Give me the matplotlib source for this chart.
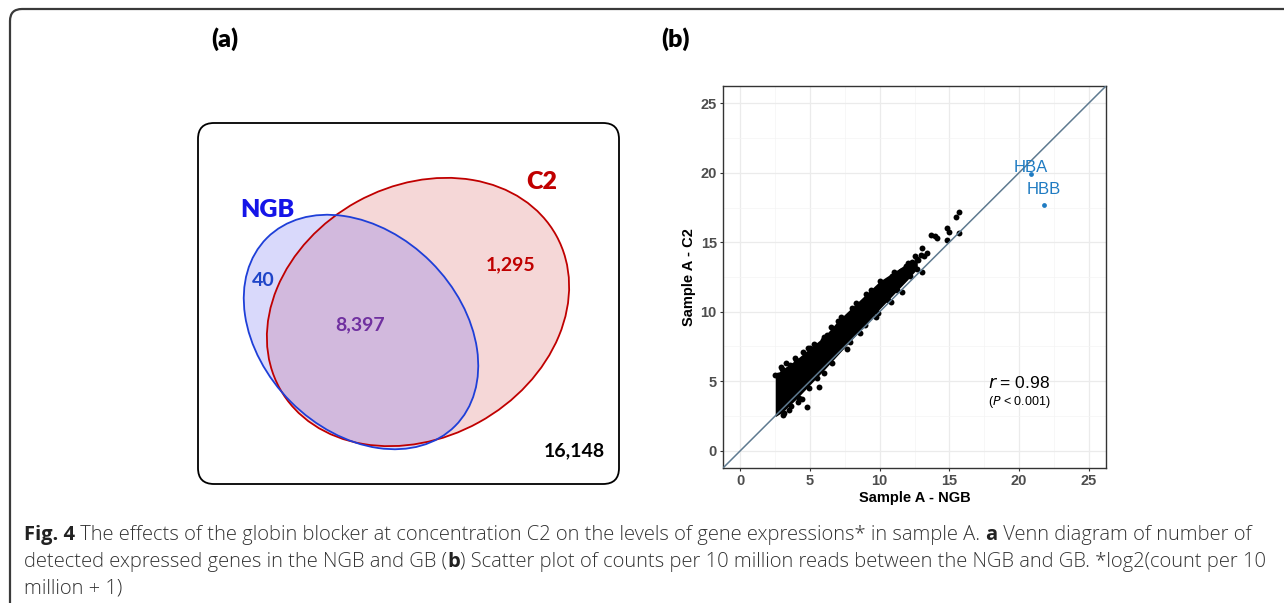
import numpy as np
import matplotlib
matplotlib.use("Agg")
import matplotlib.pyplot as plt
from matplotlib.patches import Ellipse, FancyBboxPatch, PathPatch
from matplotlib.path import Path

# ---- data -------------------------------------------------------------
venn_sets = ["NGB", "C2"]
venn_counts = {"ngb_only": "40", "both": "8,397", "c2_only": "1,295", "neither": "16,148"}

# dense cloud of genes, read as a band: x, lower edge, upper edge
band_x = [2.5, 3.0, 4.0, 5.0, 6.0, 7.0, 8.0, 9.0, 10.0, 11.0, 12.0, 12.7]
band_lo = [2.45, 2.75, 3.7, 4.75, 5.8, 6.9, 8.0, 9.1, 10.2, 11.25, 12.3, 13.1]
band_hi = [5.45, 5.85, 6.55, 7.4, 8.2, 9.35, 10.3, 11.25, 12.2, 12.85, 13.5, 13.8]

# single genes standing out of the cloud
pts_x = [15.7, 15.46, 15.7, 14.8, 14.98, 14.8, 13.96, 13.7, 14.1, 13.07, 13.07, 13.4,
         12.5, 12.75, 12.7, 12.17, 11.26, 10.57, 9.85, 8.94, 7.67, 6.0, 5.67, 4.76,
         4.16, 3.08, 3.5, 4.4, 4.87, 3.56, 2.73, 6.19, 12.3, 11.9, 11.5, 13.2, 12.0,
         11.0, 10.4, 5.3, 6.5, 7.2, 8.3, 9.4, 3.9, 4.5, 5.9, 2.9, 3.3, 10.9, 13.0,
         3.1, 3.6, 4.2, 4.9, 5.5, 6.6, 7.9, 8.6, 9.7, 10.8, 11.6]
pts_y = [17.2, 16.8, 15.67, 16.03, 15.72, 15.14, 15.43, 15.5, 15.3, 14.56, 12.83, 14.23,
         14.0, 13.7, 13.08, 12.55, 11.59, 10.86, 9.9, 9.06, 7.31, 5.58, 4.6, 3.17,
         3.53, 2.57, 2.9, 3.7, 7.38, 6.18, 5.46, 8.34, 13.6, 13.3, 12.9, 14.0, 12.9,
         12.5, 11.9, 7.7, 8.9, 9.6, 10.6, 11.6, 6.7, 7.1, 8.0, 6.0, 6.3, 12.6, 14.1,
         2.7, 3.2, 3.8, 4.5, 5.2, 6.3, 7.8, 8.5, 9.6, 10.7, 11.4]

glob_names = ["HBA", "HBB"]
glob_x = [20.84, 21.8]
glob_y = [19.95, 17.7]

r_value = 0.98

fig = plt.figure(figsize=(12.84, 6.03), dpi=100)

# overlay axes in pixel coordinates (y down) for border, venn and caption
ov = fig.add_axes([0, 0, 1, 1])
ov.set_xlim(0, 1284)
ov.set_ylim(603, 0)
ov.axis("off")

verts = [(10, 610), (10, 21), (10, 9), (22, 9), (1290, 9)]
codes = [Path.MOVETO, Path.LINETO, Path.CURVE3, Path.CURVE3, Path.LINETO]
ov.add_patch(PathPatch(Path(verts, codes), fill=False, ec="#3a3a3a", lw=1.6))

ov.text(225, 39, "(a)", fontsize=18, fontweight="heavy", family="Lato",
        ha="center", va="center")
ov.text(675, 39, "(b)", fontsize=18, fontweight="heavy", family="Lato",
        ha="center", va="center")

# venn panel
ov.add_patch(FancyBboxPatch((198, 123), 421, 361, boxstyle="round,pad=0,rounding_size=16",
                            fc="white", ec="black", lw=1.3))
c2 = Ellipse((418, 312), 316, 252, angle=-28.9, fc="#F5D7D7", ec="none")
ngb = Ellipse((361, 332), 266, 198, angle=45, fc="#D9D9FB", ec="none")
ov.add_patch(c2)
ov.add_patch(ngb)
overlap = Ellipse((361, 332), 266, 198, angle=45, fc="#D2B9DD", ec="none")
ov.add_patch(overlap)
overlap.set_clip_path(c2)
ov.add_patch(Ellipse((418, 312), 316, 252, angle=-28.9, fill=False, ec="#C00000", lw=1.3))
ov.add_patch(Ellipse((361, 332), 266, 198, angle=45, fill=False, ec="#1E3FD8", lw=1.3))

ov.text(267, 210, venn_sets[0], color="#1515E8", fontsize=18, fontweight="heavy",
        family="Lato", ha="center", va="center")
ov.text(542, 182, venn_sets[1], color="#C00000", fontsize=18, fontweight="heavy",
        family="Lato", ha="center", va="center")
ov.text(263, 280, venn_counts["ngb_only"], color="#1F45C8", fontsize=14,
        fontweight="bold", family="Lato", ha="center", va="center")
ov.text(360, 325, venn_counts["both"], color="#7030A0", fontsize=14,
        fontweight="bold", family="Lato", ha="center", va="center")
ov.text(511, 265, venn_counts["c2_only"], color="#C00000", fontsize=14,
        fontweight="bold", family="Lato", ha="center", va="center")
ov.text(574, 451, venn_counts["neither"], color="black", fontsize=14,
        fontweight="bold", family="Lato", ha="center", va="center")

# scatter panel
ax = fig.add_axes([723 / 1284, 135 / 603, 383 / 1284, 382 / 603])
ax.set_xlim(-1.25, 26.25)
ax.set_ylim(-1.25, 26.25)
ticks = np.arange(0, 26, 5)
ax.set_xticks(ticks)
ax.set_yticks(ticks)
ax.set_xticks(ticks[:-1] + 2.5, minor=True)
ax.set_yticks(ticks[:-1] + 2.5, minor=True)
ax.grid(which="major", color="#EBEBEB", lw=0.9)
ax.grid(which="minor", color="#F4F4F4", lw=0.5)
ax.set_axisbelow(True)
ax.tick_params(which="minor", length=0)
ax.tick_params(which="major", length=2.5, width=0.8, color="#333333", pad=2,
               labelsize=10.5, labelcolor="#4D4D4D")
for lab in ax.get_xticklabels() + ax.get_yticklabels():
    lab.set_fontweight("bold")
    lab.set_family("Liberation Sans")
for sp in ax.spines.values():
    sp.set_color("#333333")
    sp.set_linewidth(1.0)

ax.fill_between(band_x, band_lo, band_hi, color="black", lw=0, zorder=2)
ax.scatter(pts_x, pts_y, s=18, color="black", lw=0, zorder=3)
ax.scatter(band_x, band_hi, s=18, color="black", lw=0, zorder=3)
ax.plot([-1.25, 26.25], [-1.25, 26.25], color="#5E7A90", lw=1.1, zorder=4)

ax.scatter(glob_x, glob_y, s=12, color="#1F7BC2", lw=0, zorder=5)
ax.text(glob_x[0], glob_y[0] + 0.4, glob_names[0], color="#1F7BC2", fontsize=12,
        family="Liberation Sans", ha="center", va="center", zorder=5)
ax.text(glob_x[1], glob_y[1] + 1.1, glob_names[1], color="#1F7BC2", fontsize=12,
        family="Liberation Sans", ha="center", va="center", zorder=5)

ax.text(20.0, 4.9, r"$r$ = %.2f" % r_value, fontsize=12.5, family="Liberation Sans",
        ha="center", va="center")
ax.text(20.0, 3.5, r"($P$ < 0.001)", fontsize=9, family="Liberation Sans",
        ha="center", va="center")

ax.set_xlabel("Sample A - NGB", fontsize=10.5, fontweight="bold", family="Liberation Sans",
              labelpad=2)
ax.set_ylabel("Sample A - C2", fontsize=10.5, fontweight="bold", family="Liberation Sans",
              labelpad=3)

# caption, drawn as runs so bold words sit inline
cap_lines = [
    [("Fig. 4", "bold"), (" The effects of the globin blocker at concentration C2 on the levels of gene expressions* in sample A. ", "light"),
     ("a", "bold"), (" Venn diagram of number of", "light")],
    [("detected expressed genes in the NGB and GB (", "light"), ("b", "bold"),
     (") Scatter plot of counts per 10 million reads between the NGB and GB. *log2(count per 10", "light")],
    [("million + 1)", "light")],
]
cap_y = [535, 562, 588]

renderer = fig.canvas.get_renderer()


def draw_line(runs, y, size):
    x = 24
    arts = []
    for s, w in runs:
        t = ov.text(x, y, s, fontsize=size, fontweight=w, family="Open Sans",
                    color="#222222" if w == "bold" else "#333333", va="center", ha="left")
        bb = t.get_window_extent(renderer)
        x += bb.width
        arts.append(t)
    return x, arts


# fit the first line to the width used in the reference
end, arts = draw_line(cap_lines[0], cap_y[0], 14)
for a in arts:
    a.remove()
size = 14 * (1260 - 24) / (end - 24)
for runs, y in zip(cap_lines, cap_y):
    draw_line(runs, y, size)

fig.savefig("out.png", dpi=100)
